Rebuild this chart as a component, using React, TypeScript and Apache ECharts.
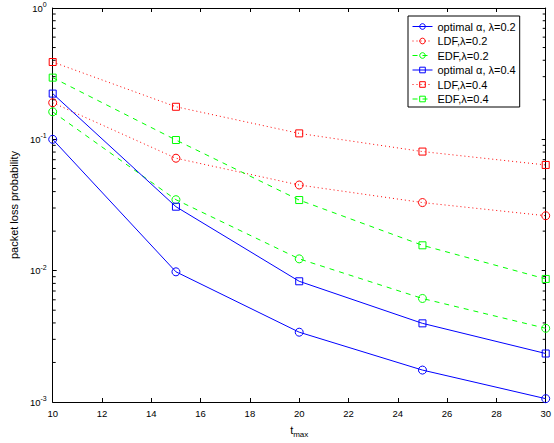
import React, { useEffect, useRef } from "react";
import * as echarts from "echarts";

const tmax = [10, 15, 20, 25, 30];
const optimal02 = [0.1, 0.0098, 0.0034, 0.00175, 0.00106];
const ldf02 = [0.19, 0.0718, 0.0449, 0.033, 0.0262];
const edf02 = [0.162, 0.0347, 0.0123, 0.00614, 0.00364];
const optimal04 = [0.223, 0.0307, 0.0083, 0.00397, 0.00234];
const ldf04 = [0.388, 0.177, 0.111, 0.0807, 0.0638];
const edf04 = [0.295, 0.0988, 0.0345, 0.0156, 0.00865];

const seriesNames = [
  "optimal α, λ=0.2",
  "LDF,λ=0.2",
  "EDF,λ=0.2",
  "optimal α, λ=0.4",
  "LDF,λ=0.4",
  "EDF,λ=0.4",
];

const minorTickValues: number[] = [];
for (const dec of [0.001, 0.01, 0.1]) {
  for (let k = 2; k <= 9; k++) minorTickValues.push(+(k * dec).toPrecision(3));
}

const FONT = "'Liberation Sans', Arial, Helvetica, sans-serif";

export default function App() {
  const ref = useRef<HTMLDivElement>(null);
  useEffect(() => {
    if (!ref.current) return;
    const chart = echarts.init(ref.current, undefined, { renderer: "svg" });
    const mk = (
      name: string,
      vals: number[],
      color: string,
      symbol: string,
      size: number,
      type: any
    ) => ({
      name,
      type: "line",
      data: tmax.map((t, i) => [t, vals[i]]),
      symbol,
      symbolSize: size,
      showAllSymbol: true,
      lineStyle: { color, width: 1, type },
      itemStyle: { color: "rgba(0,0,0,0)", borderColor: color, borderWidth: 1 },
      emphasis: { disabled: true },
      z: 3,
    });
    const option: any = {
      animation: false,
      backgroundColor: "#fff",
      textStyle: { fontFamily: FONT },
      grid: { left: 49, right: 5, top: 8, bottom: 40 },
      legend: {
        orient: "vertical",
        left: 408,
        top: 16,
        data: seriesNames,
        backgroundColor: "#fff",
        borderColor: "#000",
        borderWidth: 1,
        borderRadius: 0,
        padding: [4.5, 4, 2, 4],
        itemWidth: 20,
        itemHeight: 7,
        itemGap: 2.5,
        lineStyle: { width: 1 },
        itemStyle: { borderWidth: 1 },
        textStyle: { fontSize: 11, lineHeight: 12, color: "#000", fontFamily: FONT },
        z: 10,
      },
      xAxis: [
        {
          type: "value",
          min: 10,
          max: 30,
          interval: 2,
          name: "{t|t}{s|max}",
          nameLocation: "middle",
          nameGap: 20,
          nameTextStyle: {
            color: "#000",
            rich: {
              t: { fontSize: 11, lineHeight: 16, color: "#000", fontFamily: FONT },
              s: { fontSize: 8, verticalAlign: "bottom", color: "#000", fontFamily: FONT },
            },
          },
          axisLine: { lineStyle: { color: "#000", width: 1 } },
          axisTick: { inside: true, length: 4, lineStyle: { color: "#000" } },
          axisLabel: { color: "#000", fontSize: 9.5, margin: 6, fontFamily: FONT },
          splitLine: { show: false },
        },
        {
          type: "value",
          position: "top",
          min: 10,
          max: 30,
          interval: 2,
          axisLine: { lineStyle: { color: "#000", width: 1 } },
          axisTick: { inside: true, length: 4, lineStyle: { color: "#000" } },
          axisLabel: { show: false },
          splitLine: { show: false },
        },
      ],
      yAxis: [
        {
          type: "log",
          logBase: 10,
          min: 0.001,
          max: 1,
          name: "packet loss probability",
          nameLocation: "middle",
          nameGap: 30,
          nameTextStyle: { color: "#000", fontSize: 11, fontFamily: FONT },
          axisLine: { show: true, lineStyle: { color: "#000", width: 1 } },
          axisTick: { inside: true, length: 4, lineStyle: { color: "#000" } },
          axisLabel: {
            margin: 6,
            formatter: (v: number) => {
              const e = Math.round(Math.log10(v));
              return `{b|10}{s|${e}}`;
            },
            rich: {
              b: { fontSize: 9.5, lineHeight: 14, color: "#000", fontFamily: FONT },
              s: { fontSize: 7, verticalAlign: "top", color: "#000", fontFamily: FONT },
            },
          },
          splitLine: { show: false },
        },
        {
          type: "log",
          logBase: 10,
          min: 0.001,
          max: 1,
          position: "right",
          axisLine: { show: true, lineStyle: { color: "#000", width: 1 } },
          axisTick: { inside: true, length: 4, lineStyle: { color: "#000" } },
          axisLabel: { show: false },
          splitLine: { show: false },
        },
      ],
      series: [
        mk(seriesNames[0], optimal02, "#0000ff", "circle", 8, "solid"),
        mk(seriesNames[1], ldf02, "#ff0000", "circle", 8, [1, 3]),
        mk(seriesNames[2], edf02, "#00ff00", "circle", 8, [5, 5]),
        mk(seriesNames[3], optimal04, "#0000ff", "rect", 7, "solid"),
        mk(seriesNames[4], ldf04, "#ff0000", "rect", 7, [1, 3]),
        mk(seriesNames[5], edf04, "#00ff00", "rect", 7, [5, 5]),
        {
          type: "custom",
          silent: true,
          data: minorTickValues.map((v) => [10, v]),
          encode: { x: 0, y: 1 },
          renderItem: (params: any, api: any) => {
            const v = api.value(1);
            const l = api.coord([10, v]);
            const r = api.coord([30, v]);
            return {
              type: "group",
              children: [
                {
                  type: "line",
                  shape: { x1: l[0], y1: l[1], x2: l[0] + 3, y2: l[1] },
                  style: { stroke: "#000", lineWidth: 1 },
                },
                {
                  type: "line",
                  shape: { x1: r[0] - 3, y1: r[1], x2: r[0], y2: r[1] },
                  style: { stroke: "#000", lineWidth: 1 },
                },
              ],
            };
          },
          z: 2,
        },
      ],
    };
    chart.setOption(option);
    return () => chart.dispose();
  }, []);
  return (
    <div
      ref={ref}
      style={{ position: "fixed", left: 0, top: 0, width: 554, height: 443 }}
    />
  );
}
